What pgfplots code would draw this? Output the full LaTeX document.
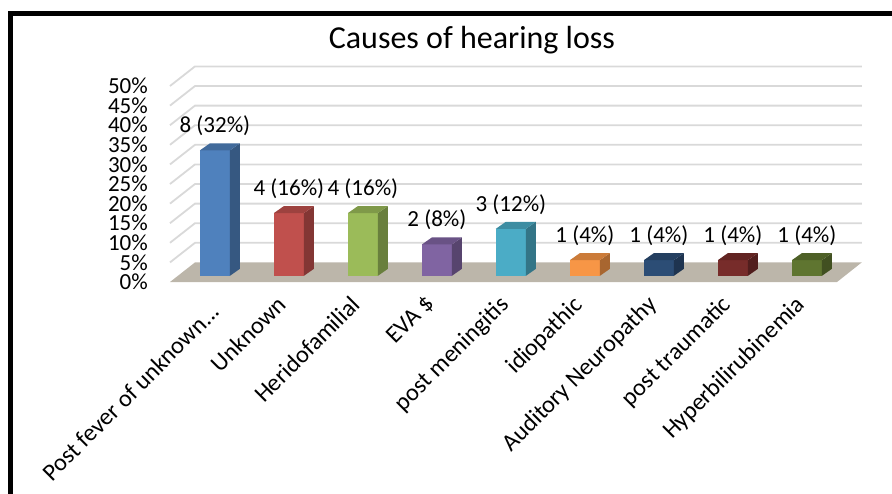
\documentclass[border=0pt]{standalone}
\usepackage{fontspec}
\setmainfont{Carlito}
\usepackage{pgfplots}
\pgfplotsset{compat=1.18}
\definecolor{gridc}{RGB}{217,217,217}
\definecolor{floorc}{RGB}{188,182,170}
\definecolor{cA}{HTML}{4F81BD}
\definecolor{cB}{HTML}{C0504D}
\definecolor{cC}{HTML}{9BBB59}
\definecolor{cD}{HTML}{8064A2}
\definecolor{cE}{HTML}{4BACC6}
\definecolor{cF}{HTML}{F79646}
\definecolor{cG}{HTML}{2C4D75}
\definecolor{cH}{HTML}{772C2A}
\definecolor{cI}{HTML}{5F7530}
\newcommand\lab{\fontsize{23}{24}\selectfont}
\newcommand\catlab{\fontsize{24.2}{25}\selectfont}
\begin{document}
\begin{tikzpicture}
\useasboundingbox (-207pt,-211pt) rectangle (685pt,282pt);
\begin{axis}[at={(0pt,0pt)}, anchor=origin, x=74pt, y=3.92pt,
  xmin=-0.5, xmax=8.9, ymin=-3.05, ymax=56, clip=false,
  axis line style={draw=none}, tick style={draw=none},
  ytick={0,5,...,50},
  yticklabels={0\%,5\%,10\%,15\%,20\%,25\%,30\%,35\%,40\%,45\%,50\%},
  xtick={0,...,8},
  xticklabels={{\rule{0pt}{27pt}Post fever of unknown{.}{.}{.}\hspace{-6pt}},Unknown,Heridofamilial,EVA \$,post meningitis,idiopathic,Auditory Neuropathy,post traumatic,Hyperbilirubinemia},
  yticklabel style={anchor=east, inner sep=0pt, xshift=-22pt, font=\lab},
  xticklabel style={xshift=-5pt, rotate=45, anchor=north east, inner sep=0pt, font=\catlab},
]
% gridlines
\foreach \g in {5,10,...,50} {
  \pgfmathtruncatemacro\gb{\g+5}
  \edef\temp{\noexpand\addplot[gridc, line width=1.8pt] coordinates {(-0.5,\g) (-0.162,\gb) (8.848,\gb)};}
  \temp
}
% floor
\addplot[fill=floorc, draw=none] coordinates {(-0.5,0) (8.514,0) (8.848,5) (-0.162,5)};
% bars
\foreach \i/\v/\c in {0/32/cA,1/16/cB,2/16/cC,3/8/cD,4/12/cE,5/4/cF,6/4/cG,7/4/cH,8/4/cI} {
  \pgfmathsetmacro\xl{\i-0.096}
  \pgfmathsetmacro\xr{\i+0.310}
  \pgfmathsetmacro\xbl{\i+0.039}
  \pgfmathsetmacro\xbr{\i+0.445}
  \pgfmathsetmacro\yt{\v+1.58}
  \pgfmathsetmacro\ybt{\v+3.37}
  \edef\temp{%
    \noexpand\addplot[fill=\c, draw=none] coordinates {(\xl,1.58) (\xr,1.58) (\xr,\yt) (\xl,\yt)};
    \noexpand\addplot[fill=\c!68!black, draw=none] coordinates {(\xr,1.58) (\xbr,3.37) (\xbr,\ybt) (\xr,\yt)};
    \noexpand\addplot[fill=\c!82!black, draw=none] coordinates {(\xl,\yt) (\xr,\yt) (\xbr,\ybt) (\xbl,\ybt)};
  }%
  \temp
}
% data labels
\addplot[draw=none, mark=none, nodes near coords, point meta=explicit symbolic,
  nodes near coords style={anchor=center, inner sep=0pt, font=\lab, text=black}]
  coordinates {(0.107,39.8)[8 (32\%)] (1.107,23.8)[4 (16\%)] (2.107,23.8)[4 (16\%)]
   (3.107,15.8)[2 (8\%)] (4.107,19.8)[3 (12\%)] (5.107,11.8)[1 (4\%)]
   (6.107,11.8)[1 (4\%)] (7.107,11.8)[1 (4\%)] (8.107,11.8)[1 (4\%)]};
\node[anchor=base, font=\fontsize{32}{32}\selectfont] at (axis cs:3.58,59.6) {Causes of hearing loss};
\end{axis}
\draw[line width=5pt, line cap=butt, line join=miter] (-196.5pt,-212pt) -- (-196.5pt,268pt) -- (686pt,268pt);
\end{tikzpicture}
\end{document}
